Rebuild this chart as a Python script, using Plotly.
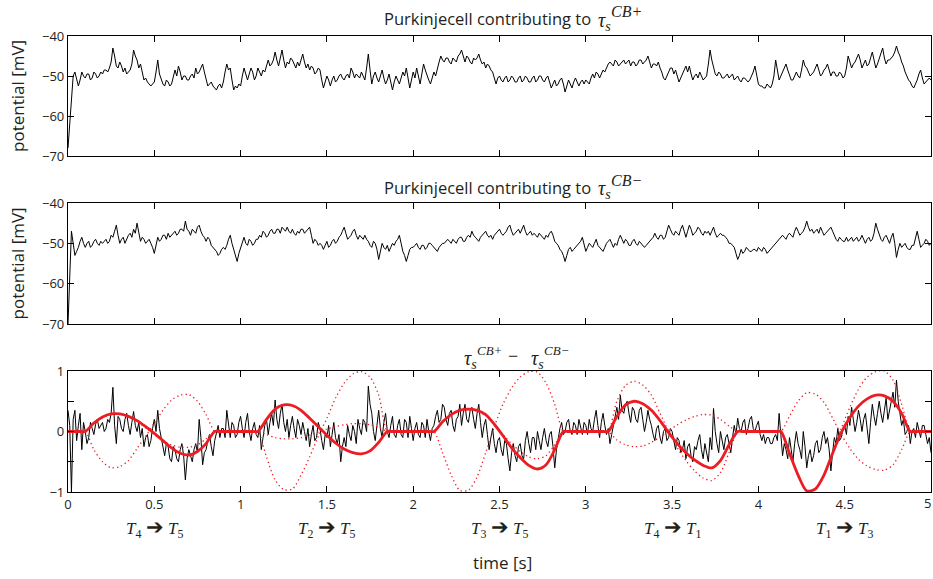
import plotly.graph_objects as go

W, H = 933, 579

# ---------------- data ----------------
time_s = [round(i * 0.01, 2) for i in range(501)]

cb_plus_mV = [
    -68, -62, -55, -50, -49, -51, -52.5, -51, -49, -50,
    -50.5, -49.5, -49.5, -51, -50.5, -49, -49.5, -50.5, -50, -49,
    -49.5, -48.5, -48.5, -49, -48, -46.5, -43, -45, -47.5, -48,
    -46.5, -47.5, -49, -48, -49.5, -49, -48.5, -47, -43.5, -45,
    -46, -48, -47, -49, -51, -50.5, -51.5, -52, -52.5, -52,
    -51.5, -49, -46, -49.5, -51, -52, -52.5, -51, -51.5, -52.5,
    -52, -50.5, -48.5, -50, -47.5, -49, -51, -50, -50, -51,
    -51, -50, -49.5, -50.5, -48, -49.5, -49, -48, -47, -49,
    -51, -52.5, -52, -51.5, -52.5, -53, -53.5, -52.5, -52, -53,
    -51.5, -49, -47, -48.5, -48, -51, -53.5, -52.5, -53, -52,
    -52.5, -50, -48, -49.5, -51, -49.5, -48, -49, -51, -50,
    -48, -49, -50, -48.5, -49, -47.5, -46, -47.5, -47, -46,
    -44, -46, -47.5, -45.5, -43.5, -46, -48, -46.5, -47, -45.5,
    -46, -47, -48, -46.5, -47.5, -46, -44.5, -46.5, -48, -47,
    -48.5, -47.5, -48, -49.5, -49, -48, -48.5, -51, -53, -51.5,
    -50, -51, -52.5, -51, -50, -51.5, -51, -50, -49.5, -50.5,
    -51, -50, -49.5, -50.5, -48, -49, -50.5, -49.5, -50, -50.5,
    -49, -50, -51, -48, -44.5, -48.5, -52, -50, -49, -50.5,
    -51.5, -50, -48.5, -50.5, -52, -51, -49.5, -51.5, -53.5, -51.5,
    -50, -51, -52, -50.5, -49, -50, -48, -50.5, -53, -51,
    -49, -50.5, -48, -50, -52, -49.5, -47, -48.5, -50, -51,
    -52, -50.5, -49, -50, -48, -46.5, -45, -46, -46.5, -45.5,
    -45.5, -46.5, -47, -45.5, -46, -46.5, -45, -44.5, -43.5, -45,
    -46.5, -45, -45.5, -46.5, -47, -45.5, -46, -45.5, -44.5, -46,
    -47, -46.5, -48, -47, -47.5, -48.5, -49, -50.5, -52, -50.5,
    -50, -51, -51.5, -50.5, -50, -51.5, -51, -50, -50.5, -51.5,
    -51.5, -50.5, -50, -51.5, -51, -50, -50.5, -51.5, -51.5, -50.5,
    -50, -51.5, -51, -50, -50, -51, -51.5, -50.5, -50, -51.5,
    -53, -52, -51, -52.5, -52, -51, -50.5, -52, -54, -52.5,
    -51, -52, -53, -51.5, -50.5, -51.5, -52.5, -51.5, -51, -52,
    -51, -51.5, -52, -50.5, -49.5, -50.5, -49, -49.5, -50.5, -49.5,
    -48.5, -49, -48, -47, -46.5, -47, -47.5, -46, -46.5, -47.5,
    -47, -46.5, -46, -47, -46.5, -46, -47.5, -46.5, -46.5, -47.5,
    -47, -46, -46, -47, -46.5, -46, -45, -46.5, -48, -47,
    -47, -47.5, -46.5, -48, -49, -50.5, -51, -50, -49, -48,
    -48, -49.5, -48.5, -50, -51.5, -50.5, -49.5, -48.5, -47.5, -49,
    -47.5, -49.5, -51, -50, -49.5, -50.5, -49, -50, -51, -50.5,
    -50, -47, -43.5, -46, -48, -49.5, -50, -49, -49.5, -50.5,
    -50.5, -50, -49.5, -50.5, -50, -49.5, -51, -50.5, -50, -51,
    -51.5, -50.5, -50.5, -51, -51.5, -51, -50, -49, -47.5, -50,
    -52, -52.5, -52.5, -53, -53, -52, -52.5, -53, -52, -50,
    -46, -49, -51, -50, -49, -48, -47, -48.5, -50, -51,
    -51, -50, -49, -50, -50.5, -48.5, -46, -47.5, -48, -49,
    -50, -49.5, -49, -48, -47, -48.5, -50, -49.5, -48.5, -48,
    -47, -48.5, -50, -49, -49, -50, -50, -49, -49.5, -50.5,
    -50, -48, -45, -46.5, -48, -47, -46.5, -45.5, -44.5, -46,
    -48, -47, -46, -47.5, -47, -45.5, -44, -46, -48, -47,
    -45.5, -44.5, -43, -45.5, -47, -46, -46, -45.5, -45, -44,
    -42.5, -44, -45, -46.5, -47.5, -49, -50, -51, -51.5, -52.5,
    -53, -52, -51, -49.5, -48.5, -50.5, -52, -51.5, -51, -50.5,
    -51,
]

cb_minus_mV = [
    -70, -56, -47, -50, -53, -52, -51, -49.5, -48.5, -50,
    -51, -50, -49.5, -51, -50.5, -49.5, -49, -50, -50.5, -49.5,
    -50, -49.5, -49, -50, -49.5, -48, -48.5, -47, -45.5, -48,
    -50, -49, -48.5, -50, -49, -48, -47.5, -48.5, -46.5, -47.5,
    -45, -47.5, -49.5, -48.5, -49, -50, -49.5, -49, -50, -51,
    -52.5, -50, -48.5, -49.5, -49, -48, -48, -49, -47.5, -48.5,
    -48, -47.5, -47, -48, -47.5, -46.5, -46.5, -47, -44.5, -46.5,
    -47, -48, -46.5, -47, -47.5, -46, -45.5, -47, -48, -48.5,
    -49.5, -48.5, -49, -50.5, -51, -51.5, -52, -53, -52.5, -51.5,
    -51, -51.5, -50.5, -49, -48, -50, -51.5, -53, -54.5, -52.5,
    -51, -49.5, -48.5, -50, -50.5, -49, -49.5, -50.5, -50, -49,
    -49, -48, -48.5, -47, -47.5, -48.5, -48, -47, -46.5, -47.5,
    -47.5, -46.5, -46.5, -47.5, -46, -46.5, -47, -46, -47, -47.5,
    -46.5, -47.5, -48, -47, -47.5, -46.5, -46.5, -47.5, -47, -46.5,
    -46, -48, -50, -49, -49.5, -50.5, -50, -50.5, -51.5, -50.5,
    -49.5, -51, -50.5, -49.5, -49, -50, -49.5, -48.5, -48, -47,
    -46, -47.5, -49, -48.5, -48, -47, -46.5, -48, -49, -48,
    -48.5, -49, -48, -49, -49.5, -50.5, -51, -49.5, -50, -51.5,
    -54, -52, -50, -51, -51.5, -50.5, -52, -51, -50, -50.5,
    -49.5, -49, -48, -50, -52, -53, -54.5, -53, -51.5, -51,
    -51, -50.5, -50, -51, -51.5, -50.5, -50.5, -51.5, -51, -50,
    -50, -50.5, -51, -51.5, -52, -51, -50.5, -50, -50, -49.5,
    -49, -49.5, -50, -49, -49.5, -50, -49, -48.5, -48.5, -49.5,
    -49.5, -48.5, -48, -48.5, -47, -48, -48.5, -49, -49.5, -48.5,
    -48, -47.5, -47, -48, -48.5, -48, -49, -48, -47.5, -47,
    -46.5, -47.5, -48, -47.5, -47, -46, -45.5, -47, -48, -47.5,
    -47, -46.5, -47.5, -46.5, -45.5, -47, -48, -47.5, -47, -48,
    -47.5, -48, -48.5, -47.5, -48, -48.5, -49, -48, -48.5, -47.5,
    -47, -48, -49.5, -50, -50.5, -51.5, -52, -53, -54.5, -53,
    -51.5, -51, -52, -51.5, -51, -50.5, -50, -49.5, -48.5, -50.5,
    -52, -51, -50, -50.5, -51, -50, -49, -50.5, -51, -51.5,
    -52, -51, -50, -49.5, -49, -50, -51, -50, -50.5, -49,
    -48, -49, -50, -49, -49.5, -50.5, -50.5, -49.5, -49, -50,
    -50.5, -49.5, -50, -50.5, -51, -50.5, -50, -49.5, -49, -48.5,
    -47.5, -48.5, -49, -48, -48, -49, -48.5, -47, -45.5, -46.5,
    -47.5, -48, -47, -47.5, -48, -46.5, -45.5, -47, -48.5, -47,
    -45.5, -46.5, -48, -47.5, -47, -46, -46.5, -47.5, -48, -47,
    -47.5, -47, -48, -47, -46, -47.5, -48.5, -48, -47.5, -48,
    -48, -48.5, -49, -50, -50, -50.5, -51, -52.5, -54, -53,
    -51.5, -52.5, -52, -51, -51.5, -52, -52, -51.5, -51.5, -52,
    -51, -51.5, -52, -51, -51.5, -52.5, -52, -51.5, -51, -50.5,
    -50, -49.5, -49, -48.5, -48, -48.5, -49, -48, -47.5, -48,
    -48.5, -47, -46, -47, -48, -47.5, -47, -46, -44.5, -46,
    -47, -46.5, -47.5, -47, -46.5, -47.5, -46, -47, -48, -47.5,
    -47, -46.5, -46, -47, -48, -49, -49.5, -48.5, -49, -49.5,
    -49.5, -48.5, -49.5, -49, -48.5, -49.5, -49, -48.5, -49.5, -49,
    -48, -49, -50, -49, -48.5, -49.5, -49, -47.5, -45, -46.5,
    -48, -49, -49.5, -48.5, -48, -49, -50, -48.5, -47.5, -50,
    -53.5, -51.5, -50, -51, -50.5, -50, -51, -51.5, -51.5, -50.5,
    -50.5, -49, -47, -49, -51, -50.5, -50, -49, -49.5, -50.5,
    -50,
]

torque_diff = [
    0.35, 0.1, -1.0, 0.2, 0.35, -0.15, 0.1, 0.3, -0.3, 0.15,
    0.0, -0.2, -0.1, 0.15, 0.05, -0.05, 0.12, 0.2, 0.05, 0.1,
    0.15, 0.0, 0.05, 0.2, 0.15, 0.3, 0.73, 0.1, -0.2, 0.25,
    0.2, 0.05, 0.0, 0.2, 0.3, 0.1, -0.05, 0.15, 0.33, 0.1,
    0.0, 0.15, -0.1, 0.05, -0.25, -0.1, -0.05, -0.25, -0.15, 0.05,
    0.2, 0.0, 0.35, 0.05, -0.1, -0.3, -0.4, -0.2, -0.25, -0.45,
    -0.5, -0.25, -0.3, -0.45, -0.5, -0.3, -0.2, -0.4, -0.8, -0.45,
    -0.3, -0.4, -0.5, -0.3, -0.2, -0.35, 0.2, -0.1, -0.55, -0.35,
    -0.3, -0.15, -0.05, -0.25, -0.4, -0.15, 0.0, 0.1, -0.1, 0.05,
    0.05, -0.1, 0.35, 0.1, -0.1, 0.15, 0.1, -0.1, -0.05, 0.15,
    0.25, 0.05, -0.1, 0.15, 0.3, 0.0, -0.15, 0.05, 0.15, -0.05,
    -0.1, 0.1, -0.3, -0.1, 0.1, 0.2, -0.05, 0.15, 0.3, 0.1,
    0.52, 0.2, 0.05, 0.3, 0.45, 0.15, 0.0, 0.2, -0.1, 0.1,
    0.25, 0.05, -0.1, 0.2, 0.1, -0.05, 0.15, 0.0, -0.15, 0.05,
    -0.25, -0.05, 0.1, -0.15, -0.1, 0.15, 0.05, -0.15, -0.3, -0.05,
    -0.1, 0.1, -0.25, -0.05, 0.15, -0.1, -0.2, -0.05, -0.5, -0.25,
    -0.1, -0.25, 0.1, -0.05, -0.15, 0.1, 0.0, -0.2, 0.2, 0.05,
    -0.05, 0.2, 0.15, 0.0, 0.75, 0.45, 0.3, 0.0, -0.15, 0.1,
    0.35, 0.05, -0.1, 0.15, 0.3, 0.0, -0.1, 0.1, 0.25, -0.05,
    -0.1, 0.1, 0.2, -0.05, -0.1, 0.2, 0.15, -0.1, 0.25, 0.05,
    -0.15, 0.05, 0.15, -0.05, -0.1, 0.15, 0.1, -0.1, 0.2, 0.0,
    -0.15, 0.05, 0.1, 0.25, 0.35, 0.15, 0.2, 0.45, 0.4, 0.2,
    0.1, 0.3, 0.35, 0.1, 0.0, 0.2, 0.25, 0.45, 0.1, 0.3,
    0.45, 0.2, 0.15, 0.35, 0.4, 0.2, 0.05, 0.3, 0.45, 0.15,
    -0.1, 0.1, 0.2, -0.05, -0.3, -0.1, 0.05, -0.2, -0.35, -0.15,
    -0.1, -0.3, -0.4, -0.15, -0.2, -0.45, -0.65, -0.35, -0.2, -0.4,
    -0.5, -0.25, -0.2, -0.4, -0.45, -0.15, 0.0, -0.2, -0.35, -0.1,
    -0.1, -0.3, 0.0, -0.15, -0.3, -0.1, 0.05, -0.15, -0.25, -0.05,
    0.0, -0.25, -0.6, -0.3, -0.1, 0.05, 0.15, -0.05, 0.0, 0.15,
    0.2, 0.0, -0.05, 0.15, 0.1, -0.05, 0.2, 0.05, -0.05, 0.15,
    0.1, -0.05, 0.2, 0.05, 0.0, 0.2, 0.35, 0.1, -0.1, 0.15,
    0.3, 0.1, -0.05, 0.05, -0.2, -0.05, 0.1, 0.25, 0.4, 0.2,
    0.6, 0.35, 0.3, 0.45, 0.5, 0.3, 0.15, 0.4, 0.35, 0.2,
    0.15, 0.35, 0.4, 0.2, 0.0, 0.15, 0.35, 0.2, 0.1, -0.05,
    -0.15, 0.05, 0.1, -0.1, -0.2, 0.0, 0.05, -0.15, -0.1, 0.05,
    0.0, -0.15, -0.3, -0.1, -0.15, -0.35, -0.3, -0.15, -0.45, -0.25,
    -0.2, -0.4, -0.5, -0.25, -0.3, -0.15, -0.05, -0.3, -0.45, -0.2,
    -0.35, -0.5, -0.1, -0.3, 0.38, 0.0, -0.2, -0.35, 0.0, -0.15,
    -0.3, -0.1, -0.05, -0.2, -0.35, -0.1, 0.1, -0.05, 0.22, 0.05,
    0.0, 0.15, 0.2, -0.05, 0.05, 0.2, 0.25, 0.05, 0.0, 0.1,
    0.17, -0.05, -0.15, -0.05, -0.2, -0.1, -0.1, -0.2, -0.2, -0.1,
    -0.05, -0.15, 0.3, -0.05, -0.4, -0.2, -0.3, -0.45, -0.1, -0.3,
    -0.5, -0.2, 0.0, -0.2, -0.3, -0.45, 0.0, -0.25, -0.6, -0.4,
    -0.3, -0.5, -0.4, -0.2, -0.15, -0.35, -0.3, -0.1, 0.0, -0.2,
    -0.1, -0.3, -0.65, -0.35, -0.1, -0.2, 0.05, -0.15, -0.1, 0.05,
    0.1, -0.05, 0.25, 0.1, 0.4, 0.2, 0.0, 0.15, 0.35, 0.2,
    0.0, 0.2, 0.3, 0.05, -0.2, 0.15, 0.45, 0.25, 0.1, 0.3,
    0.5, 0.3, 0.15, 0.35, 0.55, 0.2, 0.35, 0.5, 0.65, 0.4,
    0.85, 0.5, 0.3, 0.1, 0.2, -0.05, 0.0, 0.1, -0.2, 0.0,
    0.05, -0.1, 0.15, 0.0, -0.1, 0.1, 0.1, -0.05, -0.2, -0.1,
    -0.35,
]

red_t = [
    0.0, 0.07,
    0.10, 0.15, 0.20, 0.25, 0.30, 0.35, 0.40, 0.45, 0.50, 0.55, 0.60, 0.65, 0.70, 0.75, 0.80, 0.85,
    0.88, 1.07,
    1.10, 1.15, 1.20, 1.25, 1.30, 1.35, 1.40, 1.45, 1.50, 1.55, 1.60, 1.65, 1.70, 1.75, 1.80, 1.85,
    1.88, 2.09,
    2.12, 2.17, 2.22, 2.27, 2.32, 2.37, 2.42, 2.47, 2.52, 2.57, 2.62, 2.67, 2.72, 2.77, 2.82, 2.87,
    2.90, 3.10,
    3.13, 3.18, 3.23, 3.28, 3.33, 3.38, 3.43, 3.48, 3.53, 3.58, 3.63, 3.68, 3.73, 3.78, 3.83, 3.88,
    3.91, 4.10,
    4.13, 4.18, 4.23, 4.28, 4.33, 4.38, 4.43, 4.48, 4.53, 4.58, 4.63, 4.68, 4.73, 4.78, 4.83, 4.88,
    4.91, 5.0,
]

desired = [
    0, 0,
    0, 0.14, 0.24, 0.29, 0.29, 0.25, 0.18, 0.08, -0.03, -0.15, -0.27, -0.36, -0.39, -0.33, -0.2, 0,
    0, 0,
    0, 0.2, 0.37, 0.44, 0.43, 0.35, 0.22, 0.08, -0.06, -0.19, -0.29, -0.35, -0.37, -0.32, -0.18, 0,
    0, 0,
    0, 0.16, 0.28, 0.35, 0.37, 0.35, 0.28, 0.12, -0.07, -0.27, -0.43, -0.56, -0.62, -0.55, -0.3, 0,
    0, 0,
    0, 0.25, 0.44, 0.5, 0.46, 0.35, 0.18, -0.02, -0.2, -0.35, -0.47, -0.56, -0.6, -0.48, -0.22, 0,
    0, 0,
    0, -0.36, -0.72, -0.98, -0.95, -0.72, -0.36, -0.02, 0.23, 0.42, 0.54, 0.6, 0.59, 0.5, 0.3, 0,
    0, 0,
]

dotted_a = [
    0, 0,
    0, -0.3, -0.5, -0.6, -0.58, -0.48, -0.28, -0.08, 0.14, 0.35, 0.52, 0.6, 0.61, 0.5, 0.28, 0,
    0, 0,
    0, -0.42, -0.8, -0.96, -0.95, -0.72, -0.42, -0.08, 0.22, 0.55, 0.8, 0.95, 0.99, 0.9, 0.6, 0,
    0, 0,
    0, -0.35, -0.72, -0.97, -0.97, -0.75, -0.35, 0.08, 0.45, 0.72, 0.9, 0.99, 0.98, 0.8, 0.45, 0,
    0, 0,
    0, 0.5, 0.76, 0.83, 0.77, 0.6, 0.3, 0.0, -0.27, -0.48, -0.65, -0.77, -0.81, -0.68, -0.35, 0,
    0, 0,
    0, 0.25, 0.5, 0.64, 0.62, 0.48, 0.22, -0.05, -0.28, -0.46, -0.57, -0.63, -0.64, -0.55, -0.3, 0,
    0, 0,
]

dotted_b = [
    0, 0,
    0, 0.13, 0.23, 0.28, 0.28, 0.24, 0.16, 0.06, -0.05, -0.15, -0.22, -0.26, -0.26, -0.22, -0.12, 0,
    0, 0,
    0, -0.05, -0.1, -0.12, -0.12, -0.1, -0.06, -0.01, 0.04, 0.08, 0.11, 0.13, 0.13, 0.11, 0.07, 0,
    0, 0,
    0, 0.15, 0.27, 0.34, 0.36, 0.34, 0.26, 0.12, -0.05, -0.2, -0.33, -0.42, -0.45, -0.4, -0.22, 0,
    0, 0,
    0, -0.14, -0.22, -0.25, -0.24, -0.18, -0.09, 0.01, 0.11, 0.19, 0.25, 0.28, 0.27, 0.2, 0.09, 0,
    0, 0,
    0, -0.36, -0.72, -0.98, -0.95, -0.72, -0.36, 0.05, 0.4, 0.7, 0.9, 0.99, 1.0, 0.85, 0.45, 0,
    0, 0,
]

transition_t = [0.5, 1.5, 2.5, 3.5, 4.5]
transition_labels = [("4", "5"), ("2", "5"), ("3", "5"), ("4", "1"), ("1", "3")]

x_ticks = [0, 0.5, 1, 1.5, 2, 2.5, 3, 3.5, 4, 4.5, 5]
x_ticktext = ["0", "0.5", "1", "1.5", "2", "2.5", "3", "3.5", "4", "4.5", ""]
last_x_label = "5"
mv_ticks = [-70, -60, -50, -40]
mv_ticktext = ["\u221270", "\u221260", "\u221250", "\u221240"]
tq_ticks = [-1, -0.5, 0, 0.5, 1]
tq_ticktext = ["\u22121", "", "0", "", "1"]

# ---------------- figure ----------------
SANS = "Open Sans"
SERIF = "Liberation Serif"
TXT = "#231f20"
RED = "#ed1c24"


def px(x):
    return x / W


def py(y):
    return 1 - y / H


fig = go.Figure()
fig.add_trace(go.Scatter(x=time_s, y=cb_plus_mV, mode="lines",
                         line=dict(color="black", width=1), xaxis="x", yaxis="y"))
fig.add_trace(go.Scatter(x=time_s, y=cb_minus_mV, mode="lines",
                         line=dict(color="black", width=1), xaxis="x2", yaxis="y2"))
fig.add_trace(go.Scatter(x=time_s, y=torque_diff, mode="lines",
                         line=dict(color="black", width=1), xaxis="x3", yaxis="y3"))
for d in (dotted_a, dotted_b):
    fig.add_trace(go.Scatter(x=red_t, y=d, mode="lines",
                             line=dict(color=RED, width=1.3, dash="1.3px,3px",
                                       shape="spline", smoothing=0.8),
                             xaxis="x3", yaxis="y3"))
fig.add_trace(go.Scatter(x=red_t, y=desired, mode="lines",
                         line=dict(color=RED, width=2.8, shape="spline", smoothing=0.8),
                         xaxis="x3", yaxis="y3"))

xdom = [px(68), px(931)]
common = dict(showline=True, linecolor="black", linewidth=1.2, mirror="ticks",
              ticks="inside", ticklen=6, tickcolor="black", tickwidth=1,
              showgrid=False, zeroline=False, automargin=False,
              ticklabeloverflow="allow",
              tickfont=dict(family=SANS, size=13, color=TXT))


def xax(anchor, labels):
    d = dict(common)
    d.update(domain=xdom, anchor=anchor, range=[0, 5], tickmode="array",
             tickvals=x_ticks, ticktext=x_ticktext, showticklabels=labels)
    return d


def yax(anchor, dom, rng, vals, text):
    d = dict(common)
    d.update(domain=dom, anchor=anchor, range=rng, tickmode="array",
             tickvals=vals, ticktext=text)
    return d


fig.update_layout(
    template="none",
    width=W, height=H, margin=dict(l=0, r=0, t=0, b=0, pad=0),
    paper_bgcolor="white", plot_bgcolor="white", showlegend=False,
    font=dict(family=SANS, color=TXT),
    xaxis=xax("y", False),
    xaxis2=xax("y2", False),
    xaxis3=xax("y3", True),
    yaxis=yax("x", [py(156), py(36)], [-70, -40], mv_ticks, mv_ticktext),
    yaxis2=yax("x2", [py(324), py(203)], [-70, -40], mv_ticks, mv_ticktext),
    yaxis3=yax("x3", [py(492), py(371)], [-1, 1], tq_ticks, tq_ticktext),
)

ann = []


def add(text, x, y, size, family=SANS, xanchor="center", yanchor="middle", angle=0):
    ann.append(dict(text=text, x=px(x), y=py(y), xref="paper", yref="paper",
                    showarrow=False, xanchor=xanchor, yanchor=yanchor, textangle=angle,
                    font=dict(family=family, size=size, color=TXT)))


def tau(x_right, y_mid, sup, tau_size=20, sup_size=15, sup_dx=-4, sup_dy=-9):
    add("<i>\u03c4<sub>s</sub></i>", x_right, y_mid, tau_size, SERIF, xanchor="right")
    add("<i>" + sup + "</i>", x_right + sup_dx, y_mid + sup_dy, sup_size, SERIF, xanchor="left")


# panel titles
add("Purkinjecell contributing to", 593, 18.5, 16.5, xanchor="right")
tau(613, 21, "CB+", sup_size=16)
add("Purkinjecell contributing to", 593, 187, 16.5, xanchor="right")
tau(613, 189.5, "CB\u2212", sup_size=16)
tau(479, 359, "CB+", sup_size=13)
add("\u2212", 513, 356, 18, SERIF)
tau(546, 359, "CB\u2212", sup_size=13)

# last x tick label kept inside the page
add(last_x_label, 933, 503, 13, xanchor="right")

# y labels
add("potential [mV]", 17, 96, 17, angle=-90)
add("potential [mV]", 17, 263.5, 17, angle=-90)

# x label
add("time [s]", 502, 562, 17)

# transition labels
for t, (a, b) in zip(transition_t, transition_labels):
    ann.append(dict(text="<i>T</i><sub>" + a + "</sub> <span style='font-size:21px'>\u2794</span> <i>T</i><sub>" + b + "</sub>",
                    x=t, y=py(528), xref="x3", yref="paper", showarrow=False,
                    xanchor="center", yanchor="middle",
                    font=dict(family=SERIF, size=17, color=TXT)))

fig.update_layout(annotations=ann)
fig.write_html("out.html")
